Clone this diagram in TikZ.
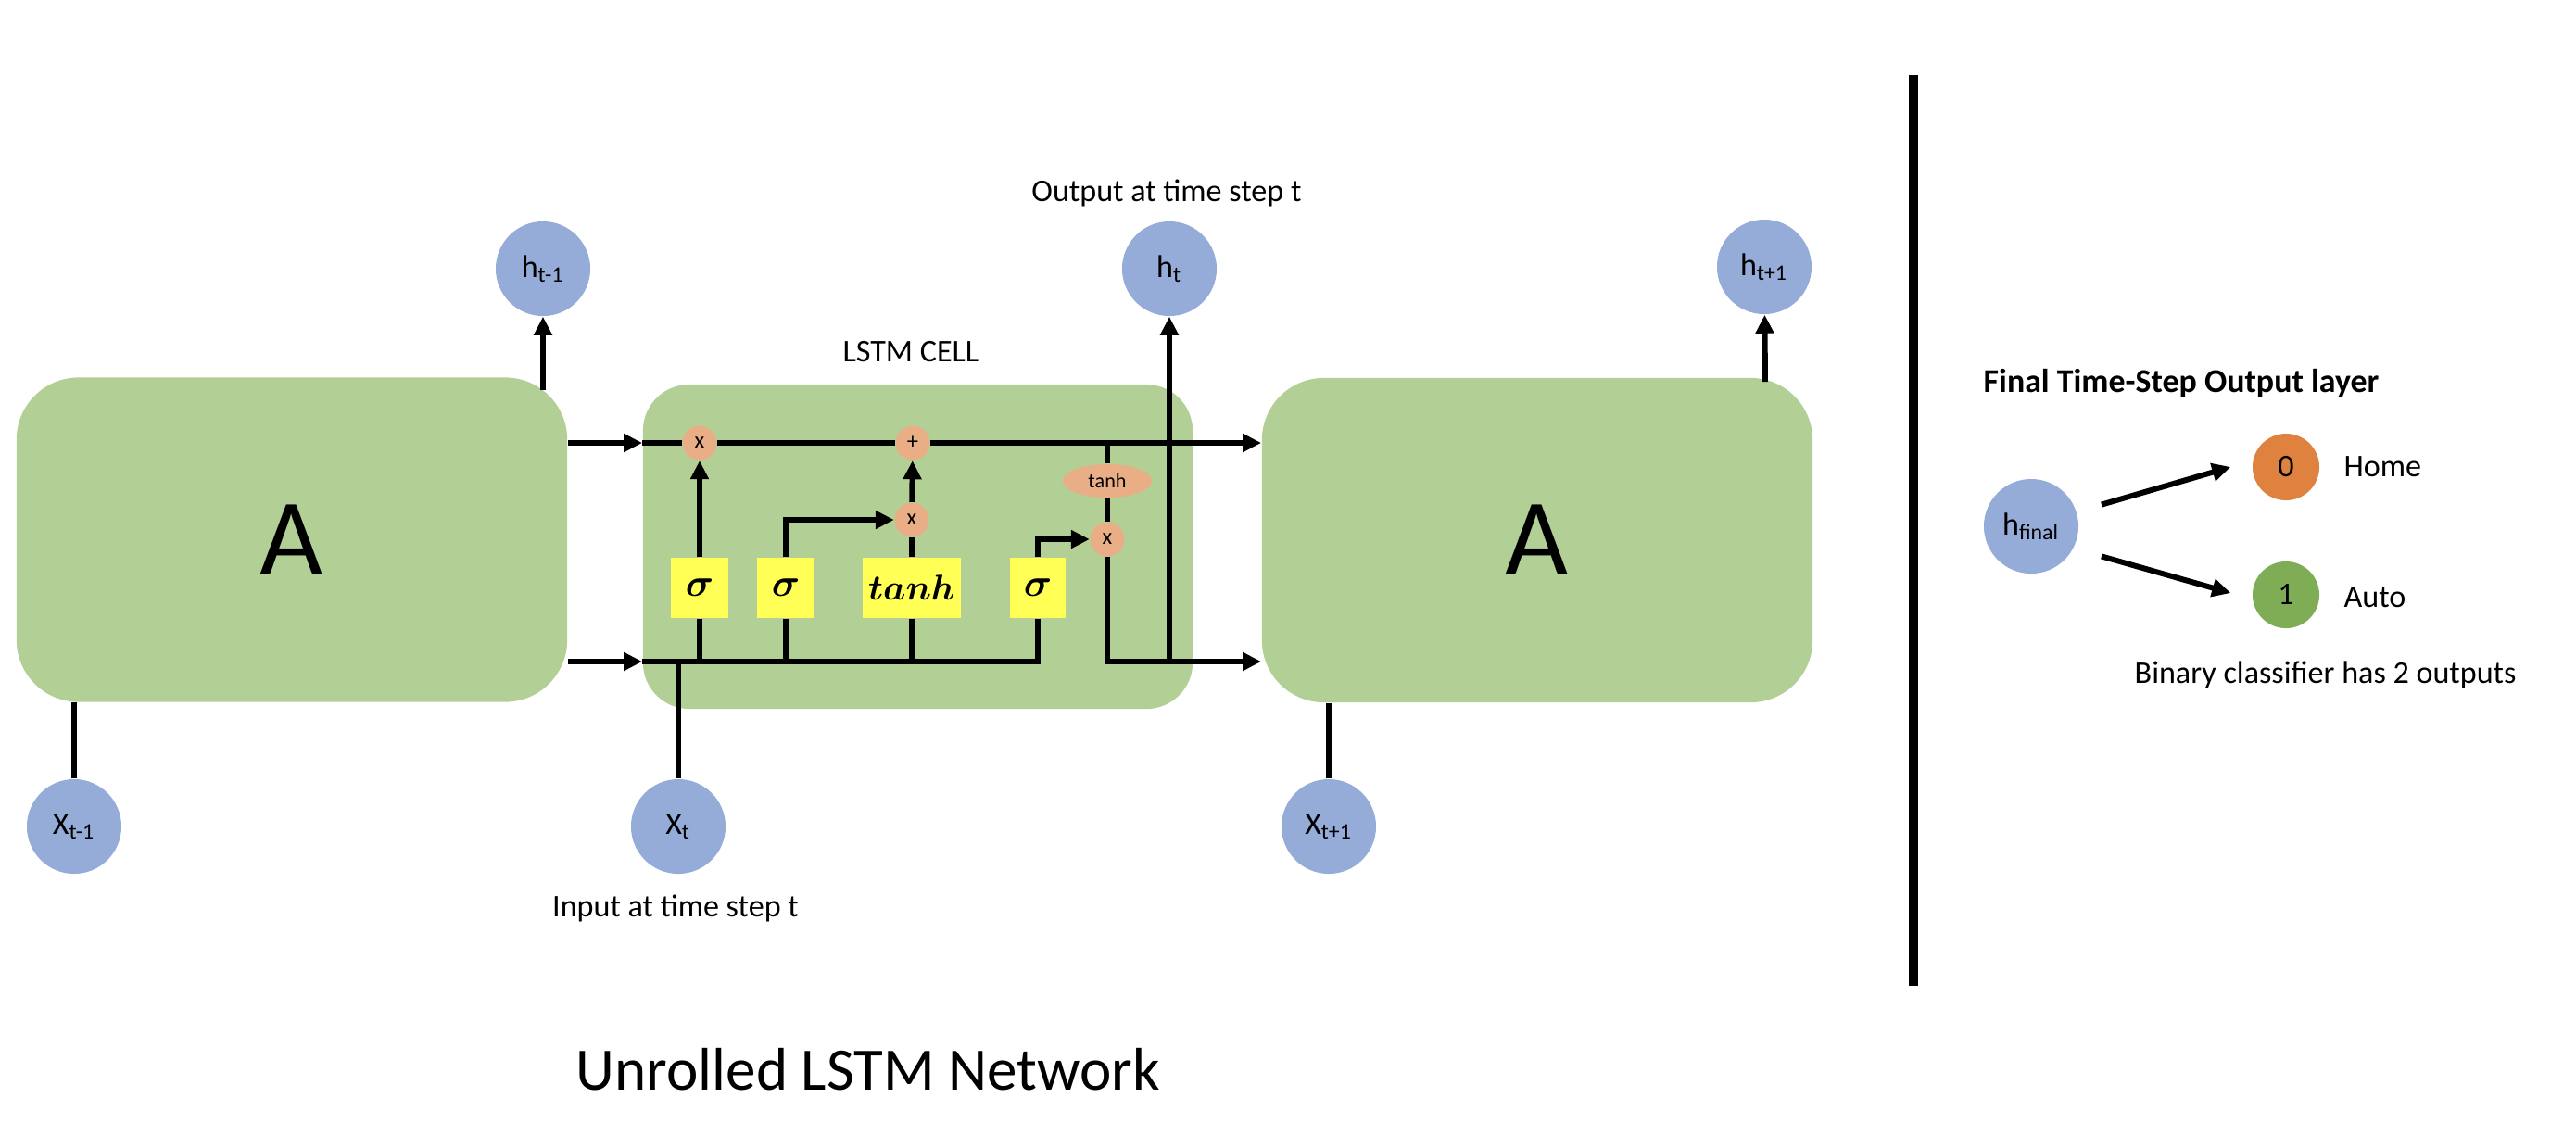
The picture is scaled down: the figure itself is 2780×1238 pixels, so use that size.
\documentclass[tikz,border=0pt]{standalone}
\usepackage{amsmath}
\usepackage{bm}
\usepackage{fontspec}
\setmainfont{Carlito}
\usepackage{xcolor}
\usetikzlibrary{positioning, shapes, arrows.meta}

\definecolor{cellgreen}{HTML}{B2CF96}
\definecolor{unitblue}{HTML}{95ABD8}
\definecolor{gateyellow}{HTML}{FFFF55}
\definecolor{opsalmon}{HTML}{EAAE87}
\definecolor{outorange}{HTML}{E0823F}
\definecolor{outgreen}{HTML}{7EAD55}

\newcommand{\lblsize}{\fontsize{9.7}{11.5}\selectfont}

\begin{document}
\begin{tikzpicture}[x=0.01cm, y=-0.01cm,
        >={Triangle[length=2mm,width=1.9mm]},
        wire/.style={line width=1.7pt},
        block/.style={rectangle, fill=cellgreen, rounded corners=0.67cm,
            minimum width=5.94cm, minimum height=3.5cm, inner sep=0pt,
            font=\fontsize{33.5}{36}\selectfont},
        unit/.style={circle, fill=unitblue, minimum size=1.02cm, inner sep=0pt, font=\lblsize},
        gatebox/.style={rectangle, fill=gateyellow, minimum height=0.65cm, minimum width=0.61cm,
            inner sep=0pt, font=\fontsize{12}{13}\selectfont},
        op/.style={circle, fill=opsalmon, minimum size=0.37cm, inner sep=0pt,
            font=\fontsize{7}{8}\selectfont},
        txt/.style={inner sep=0pt, font=\lblsize}]
        \useasboundingbox (0,0) rectangle (2780,1238);

        % unrolled blocks
        \node[block] (A1) at (315,582.5) {A};
        \node[block, rounded corners=0.5cm, minimum width=5.93cm] (cell) at (990.5,590) {};
        \node[block] (A3) at (1659,583) {A};

        % inputs and outputs
        \node[unit] (hprev) at (586,290) {h\textsubscript{t-1}};
        \node[unit] (ht) at (1262,290) {h\textsubscript{t}};
        \node[unit] (hnext) at (1904,288) {h\textsubscript{t+1}};
        \node[unit] (xprev) at (80,892) {X\textsubscript{t-1}};
        \node[unit] (xt) at (732,892) {X\textsubscript{t}};
        \node[unit] (xnext) at (1434,892) {X\textsubscript{t+1}};

        \coordinate (a1top) at (586,421);
        \coordinate (a3top) at (1905,412);
        \coordinate (hrow) at (0,714);

        \draw[wire,->] (a1top) -- (hprev);
        \draw[wire,->] (a3top) -- (hnext);
        \draw[wire] (xprev) -- (xprev |- A1.south);
        \draw[wire] (xnext) -- (xnext |- A3.south);

        % gates inside the cell
        \node[gatebox] (sig1) at (755,634.5) {$\bm{\sigma}$};
        \node[gatebox] (sig2) at (848,634.5) {$\bm{\sigma}$};
        \node[gatebox, minimum width=1.06cm, font=\fontsize{10.5}{12}\selectfont] (tanhbox) at (984,634.5) {$\bm{tanh}$};
        \node[gatebox, minimum width=0.6cm] (sig3) at (1120,634.5) {$\bm{\sigma}$};

        \node[op] (fgate) at (755,478) {x};
        \node[op] (addgate) at (985,478) {+};
        \node[op] (igate) at (984,561) {x};
        \node[op] (ogate) at (1195,582) {x};
        \node[ellipse, fill=opsalmon, minimum width=0.96cm, minimum height=0.36cm, inner sep=0pt,
            font=\fontsize{6.3}{7}\selectfont] (tanhc) at (1195,519) {tanh};

        % cell state
        \draw[wire,->] (A1.east |- fgate) -- (cell.west |- fgate);
        \draw[wire] (cell.west |- fgate) -- (fgate) -- (addgate);
        \draw[wire,->] (addgate) -- (A3.west |- addgate);
        \draw[wire] (tanhc) -- (tanhc |- fgate);
        \draw[wire] (tanhc) -- (ogate);

        % hidden state
        \draw[wire,->] (A1.east |- hrow) -- (cell.west |- hrow);
        \draw[wire] (cell.west |- hrow) -| (sig3);
        \foreach \g in {sig1,sig2,tanhbox}
            \draw[wire] (\g) -- (\g |- hrow);
        \draw[wire] (xt) -- (xt |- hrow);
        \draw[wire,->] (sig1) -- (fgate);
        \draw[wire,->] (sig2) |- (igate);
        \draw[wire] (tanhbox) -- (igate);
        \draw[wire,->] (igate) -- (addgate);
        \draw[wire,->] (sig3) |- (ogate);
        \draw[wire,->] (ogate) |- (A3.west |- hrow);
        \draw[wire,->] (ht |- hrow) -- (ht);

        % labels
        \node[txt] (celltitle) at (983,380) {LSTM CELL};
        \node[txt] (outtxt) at (1259,208) {Output at time step t};
        \node[txt] (intxt) at (729,980) {Input at time step t};
        \node[inner sep=0pt, font=\fontsize{18.5}{22}\selectfont] (nettitle) at (937,1154) {Unrolled LSTM Network};

        % divider
        \coordinate (divtop) at (2065,81);
        \coordinate (divbot) at (2065,1064);
        \draw[line width=2.85pt] (divtop) -- (divbot);

        % output layer
        \node[txt, anchor=west, font=\fontsize{10.2}{12}\selectfont\bfseries] (layertitle) at (2140,414) {Final Time-Step Output layer};
        \node[unit] (hfinal) at (2192,568) {h\textsubscript{final}};
        \node[circle, fill=outorange, minimum size=0.72cm, inner sep=0pt, font=\lblsize] (out0) at (2467,504) {0};
        \node[circle, fill=outgreen, minimum size=0.72cm, inner sep=0pt, font=\lblsize] (out1) at (2467,642) {1};
        \node[txt, anchor=west] (home) at (2529,504) {Home};
        \node[txt, anchor=west] (auto) at (2529,645) {Auto};
        \node[txt, anchor=west] (bincap) at (2303,728) {Binary classifier has 2 outputs};

        \draw[wire,->] ([shift={(26,-10)}]hfinal.15) -- ([shift={(-23,0)}]out0.west);
        \draw[wire,->] ([shift={(26,19)}]hfinal.-15) -- ([shift={(-23,-2)}]out1.west);
    \end{tikzpicture}
\end{document}
